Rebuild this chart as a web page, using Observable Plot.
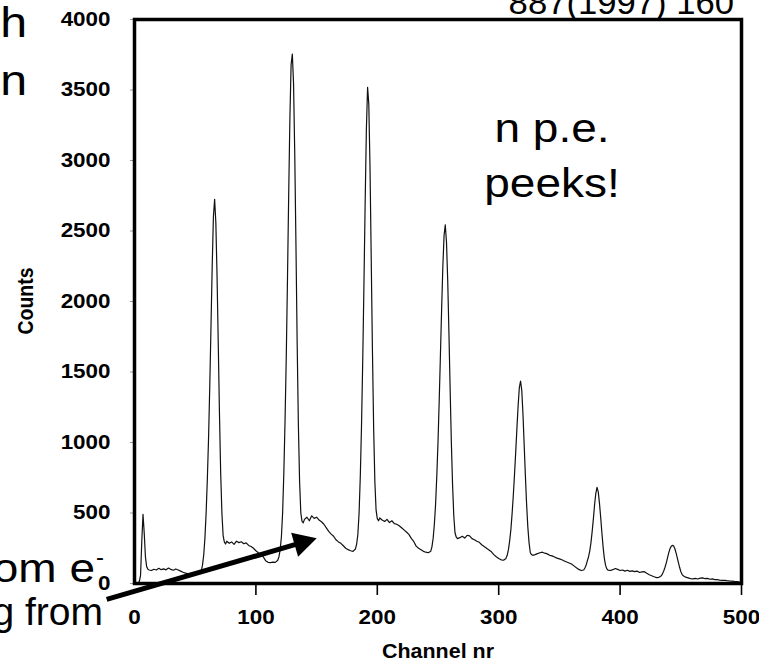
<!DOCTYPE html>
<html>
<head>
<meta charset="utf-8">
<script src="https://cdn.jsdelivr.net/npm/d3@7"></script>
<script src="https://cdn.jsdelivr.net/npm/@observablehq/plot@0.6"></script>
<style>
  html, body { margin: 0; padding: 0; background: #fff; }
  #chart { position: relative; width: 759px; height: 665px; overflow: hidden; }
</style>
</head>
<body>
<div id="chart"></div>
<script>
// ---- data ----
const channel = [
  3, 4, 5, 6, 7, 8, 9, 10, 11, 12,
  14, 16, 18, 20, 22, 24, 26, 28, 30, 32,
  34, 36, 38, 40, 42, 44, 46, 48, 50, 52,
  54, 55, 56, 57, 58, 59, 60, 61, 62, 63,
  64, 65, 66, 67, 68, 69, 70, 71, 72, 73,
  74, 75, 76, 78, 80, 82, 84, 86, 88, 90,
  92, 94, 96, 98, 100, 102, 104, 106, 108, 110,
  112, 114, 116, 118, 119, 120, 121, 122, 123, 124,
  125, 126, 127, 128, 129, 130, 131, 132, 133, 134,
  135, 136, 137, 138, 139, 140, 142, 144, 146, 148,
  150, 152, 154, 156, 158, 160, 162, 164, 166, 168,
  170, 172, 174, 176, 178, 180, 182, 183, 184, 185,
  186, 187, 188, 189, 190, 191, 192, 193, 194, 195,
  196, 197, 198, 199, 200, 201, 202, 204, 206, 208,
  210, 212, 214, 216, 218, 220, 222, 224, 226, 228,
  230, 232, 234, 236, 238, 240, 242, 244, 245, 246,
  247, 248, 249, 250, 251, 252, 253, 254, 255, 256,
  257, 258, 259, 260, 261, 262, 263, 264, 265, 266,
  268, 270, 272, 274, 276, 278, 280, 282, 284, 286,
  288, 290, 292, 294, 296, 298, 300, 302, 304, 306,
  307, 308, 309, 310, 311, 312, 313, 314, 315, 316,
  317, 318, 319, 320, 321, 322, 323, 324, 325, 326,
  327, 328, 330, 332, 334, 336, 338, 340, 342, 344,
  346, 348, 350, 352, 354, 356, 358, 360, 362, 364,
  366, 368, 370, 371, 372, 373, 374, 375, 376, 377,
  378, 379, 380, 381, 382, 383, 384, 385, 386, 387,
  388, 389, 390, 392, 394, 396, 398, 400, 402, 404,
  406, 408, 410, 412, 414, 416, 418, 420, 422, 424,
  426, 428, 430, 432, 434, 435, 436, 437, 438, 439,
  440, 441, 442, 443, 444, 445, 446, 447, 448, 449,
  450, 451, 452, 454, 456, 458, 460, 462, 464, 466,
  468, 470, 472, 474, 476, 478, 480, 482, 484, 486,
  488, 490, 492, 494, 496, 498
];
const counts = [
  5, 15, 60, 300, 490, 360, 190, 120, 102, 96,
  92, 101, 96, 108, 98, 104, 97, 110, 100, 94,
  103, 96, 88, 80, 74, 70, 68, 72, 66, 70,
  78, 90, 130, 200, 320, 500, 740, 1030, 1400, 1820,
  2250, 2600, 2725, 2560, 2180, 1700, 1200, 780, 500, 340,
  295, 280, 300, 285, 295, 278, 300, 290, 296, 282,
  288, 270, 262, 250, 232, 218, 205, 190, 162, 150,
  148, 152, 150, 165, 190, 240, 330, 500, 780, 1150,
  1600, 2150, 2750, 3300, 3680, 3755, 3550, 3050, 2400, 1700,
  1120, 720, 500, 440, 430, 455, 470, 445, 480, 462,
  470, 450, 438, 420, 395, 370, 350, 335, 310, 295,
  285, 268, 250, 240, 232, 228, 245, 280, 350, 500,
  760, 1120, 1580, 2120, 2700, 3220, 3519, 3400, 2950, 2300,
  1650, 1100, 720, 520, 460, 445, 465, 450, 440, 455,
  432, 445, 425, 420, 410, 395, 380, 365, 348, 320,
  298, 265, 250, 240, 228, 222, 218, 228, 260, 320,
  420, 560, 760, 1000, 1300, 1620, 1950, 2250, 2470, 2543,
  2420, 2150, 1780, 1380, 1000, 700, 480, 360, 330, 318,
  325, 335, 322, 342, 338, 318, 310, 300, 292, 275,
  262, 250, 238, 225, 205, 190, 178, 168, 165, 178,
  200, 240, 300, 380, 490, 620, 770, 930, 1100, 1260,
  1390, 1435, 1370, 1200, 980, 760, 560, 400, 290, 220,
  205, 200, 205, 212, 218, 222, 215, 210, 200, 196,
  188, 180, 175, 168, 160, 152, 145, 138, 125, 112,
  100, 92, 96, 110, 130, 160, 190, 230, 290, 370,
  460, 560, 640, 682, 650, 570, 470, 360, 260, 180,
  130, 105, 95, 92, 98, 106, 100, 92, 96, 88,
  94, 86, 90, 84, 88, 78, 82, 84, 72, 62,
  55, 48, 42, 44, 55, 70, 90, 115, 145, 180,
  215, 245, 262, 270, 268, 250, 220, 185, 150, 115,
  85, 65, 55, 45, 40, 35, 33, 36, 32, 38,
  40, 34, 36, 30, 33, 28, 27, 24, 22, 23,
  20, 18, 17, 15, 14, 12
];
const xTickLabels = [0, 100, 200, 300, 400, 500];
const xTickMarks = [100, 200, 300, 400, 500];
const yTickLabels = [0, 500, 1000, 1500, 2000, 2500, 3000, 3500, 4000];
const xTitle = "Channel nr";
const yTitle = "Counts";
const peakNote = ["n p.e.", "peeks!"];
const leftFragments = ["h", "n"];
const bottomFragments = ["om e", "-", "g from"];
const refFragment = "887(1997) 160";
// arrow annotation endpoints, in (channel, counts) units
const arrowChannel = [-22.5, 150.5];
const arrowCount = [-116, 317];

// ---- chart ----
const data = channel.map((c, i) => ({channel: c, count: counts[i]}));
const font = "'Liberation Sans', Arial, Helvetica, sans-serif";

const chart = Plot.plot({
  width: 759,
  height: 665,
  marginLeft: 134,
  marginRight: 18,
  marginTop: 19,
  marginBottom: 82,
  style: {fontFamily: font, fontSize: "19.5px", fontWeight: "bold", color: "#000", background: "#fff", overflow: "visible"},
  x: {domain: [0, 500], label: null},
  y: {domain: [0, 4000], label: null},
  marks: [
    Plot.axisY({ticks: yTickLabels, tickFormat: d => String(d), tickSize: 4, tickPadding: 20, stroke: "#9a9a9a", label: null}),
    Plot.axisX({ticks: xTickMarks, tickSize: 12, strokeWidth: 1.6, fill: "none", label: null}),
    Plot.axisX({ticks: xTickLabels, tickFormat: d => String(d), tickSize: 0, tickPadding: 27, label: null}),
    Plot.line(data, {x: "channel", y: "count", stroke: "#111", strokeWidth: 1.2}),
    Plot.frame({stroke: "#000", strokeWidth: 3.5})
  ]
});
document.getElementById("chart").appendChild(chart);

const svg = d3.select(chart);
// widen tick labels like the (horizontally stretched) original
svg.selectAll('g[aria-label$="tick label"] text').each(function () {
  const t = this.getAttribute("transform") || "";
  this.setAttribute("transform", t + " scale(1.15,1)");
});

const ann = svg.append("g").attr("font-family", font).attr("fill", "#000");
function note(txt, x, y, size, anchor, weight, stretch) {
  ann.append("text")
    .attr("transform", `translate(${x},${y}) scale(${stretch},1)`)
    .attr("text-anchor", anchor)
    .attr("font-size", size)
    .attr("font-weight", weight)
    .text(txt);
}
note(leftFragments[0], 27, 37, 42, "end", "normal", 1.15);
note(leftFragments[1], 27, 95, 42, "end", "normal", 1.15);
note(refFragment, 734, 14, 33, "end", "normal", 1.05);
note(peakNote[0], 552, 142, 40, "middle", "normal", 1.15);
note(peakNote[1], 552, 197, 40, "middle", "normal", 1.15);
note(bottomFragments[0], 95, 582, 40, "end", "normal", 1.15);
note(bottomFragments[1], 96, 565, 24, "start", "normal", 1.0);
note(bottomFragments[2], 103, 625, 39, "end", "normal", 1.0);
note(xTitle, 438, 658, 19.5, "middle", "bold", 1.1);
ann.append("text")
  .attr("transform", "translate(33,301) rotate(-90) scale(1,1.15)")
  .attr("text-anchor", "middle")
  .attr("font-size", 19.5)
  .attr("font-weight", "bold")
  .text(yTitle);

// arrow through the chart's scales
const sx = chart.scale("x"), sy = chart.scale("y");
const ax0 = sx.apply(arrowChannel[0]), ay0 = sy.apply(arrowCount[0]);
const ax1 = sx.apply(arrowChannel[1]), ay1 = sy.apply(arrowCount[1]);
const L = Math.hypot(ax1 - ax0, ay1 - ay0);
const ux = (ax1 - ax0) / L, uy = (ay1 - ay0) / L;
const headLen = 23, headHalf = 12.5;
const bx = ax1 - headLen * ux, by = ay1 - headLen * uy;
const nx = -uy, ny = ux;
ann.append("line")
  .attr("x1", ax0).attr("y1", ay0)
  .attr("x2", bx + 2 * ux).attr("y2", by + 2 * uy)
  .attr("stroke", "#000").attr("stroke-width", 5);
ann.append("polygon")
  .attr("points", [[ax1, ay1], [bx + headHalf * nx, by + headHalf * ny], [bx - headHalf * nx, by - headHalf * ny]].map(p => p.join(",")).join(" "))
  .attr("fill", "#000");
</script>
</body>
</html>
